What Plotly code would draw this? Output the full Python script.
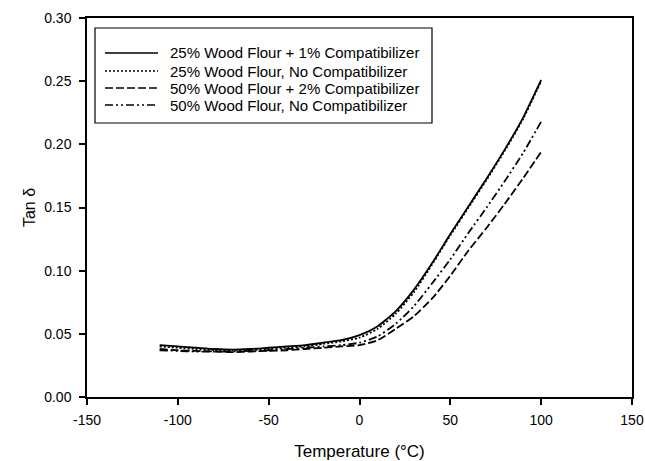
import plotly.graph_objects as go

temps = [-110, -100, -90, -80, -70, -60, -50, -40, -30, -20, -10, 0,
         10, 20, 30, 40, 50, 60, 70, 80, 90, 100]

wf25_c1 = [0.041, 0.040, 0.039, 0.038, 0.0375, 0.038, 0.039, 0.040, 0.041, 0.043, 0.045, 0.049,
           0.056, 0.068, 0.085, 0.106, 0.129, 0.151, 0.173, 0.196, 0.221, 0.251]
wf25_nc = [0.040, 0.039, 0.038, 0.0372, 0.037, 0.0372, 0.038, 0.039, 0.040, 0.042, 0.044, 0.047,
           0.054, 0.066, 0.083, 0.105, 0.128, 0.150, 0.172, 0.195, 0.220, 0.250]
wf50_c2 = [0.038, 0.037, 0.0365, 0.036, 0.0355, 0.036, 0.0365, 0.037, 0.038, 0.039, 0.040, 0.041,
           0.045, 0.054, 0.064, 0.078, 0.096, 0.116, 0.134, 0.153, 0.173, 0.194]
wf50_nc = [0.037, 0.0365, 0.036, 0.036, 0.036, 0.0365, 0.037, 0.038, 0.039, 0.040, 0.041, 0.043,
           0.048, 0.058, 0.072, 0.090, 0.109, 0.130, 0.150, 0.171, 0.193, 0.218]

names = ["25% Wood Flour + 1% Compatibilizer",
         "25% Wood Flour, No Compatibilizer",
         "50% Wood Flour + 2% Compatibilizer",
         "50% Wood Flour, No Compatibilizer"]
series = [wf25_c1, wf25_nc, wf50_c2, wf50_nc]
dashes = ["solid", "2px,2px", "8px,3px", "8px,3px,2px,3px,2px,3px"]

x_ticks = [-150, -100, -50, 0, 50, 100, 150]
x_ticktext = ["-150", "-100", "-50", "0", "50", "100", "150"]
y_ticks = [0, 0.05, 0.10, 0.15, 0.20, 0.25, 0.30]
y_ticktext = ["0.00", "0.05", "0.10", "0.15", "0.20", "0.25", "0.30"]

FONT = "Liberation Sans, Arial, sans-serif"

fig = go.Figure()
for n, s, d in zip(names, series, dashes):
    fig.add_trace(go.Scatter(x=temps, y=s, name=n, mode="lines", showlegend=False,
                             line=dict(color="black", width=1.8, dash=d,
                                       shape="spline", smoothing=0.6)))

# plot area in pixels: x 87..632, y 18..397
L, R, T, B = 87, 632, 18, 397
def px(xp):
    return (xp - L) / (R - L)
def py(yp):
    return (B - yp) / (B - T)

shapes = [dict(type="rect", xref="paper", yref="paper",
               x0=px(95), x1=px(432), y0=py(123), y1=py(28),
               line=dict(color="black", width=1.2), fillcolor="rgba(0,0,0,0)")]
annotations = []
row_y = [53, 71, 88, 105]
for n, d, ry in zip(names, dashes, row_y):
    shapes.append(dict(type="line", xref="paper", yref="paper",
                       x0=px(105), x1=px(158), y0=py(ry), y1=py(ry),
                       line=dict(color="black", width=1.6, dash=d)))
    annotations.append(dict(text=n, xref="paper", yref="paper", x=px(168), y=py(ry),
                            xanchor="left", yanchor="middle", showarrow=False,
                            font=dict(family=FONT, size=15, color="black")))

fig.update_layout(
    width=645, height=461,
    margin=dict(l=L, r=645 - R, t=T, b=461 - B),
    paper_bgcolor="white", plot_bgcolor="white",
    font=dict(size=14, family=FONT, color="black"),
    showlegend=False,
    xaxis=dict(range=[-150, 150], tickvals=x_ticks, ticktext=x_ticktext,
               automargin=False,
               showgrid=False, zeroline=False, showline=True, linecolor="black", linewidth=1.5,
               mirror=True, ticks="outside", ticklen=6, tickcolor="black", tickwidth=1.5,
               ticklabelstandoff=3,
               title=dict(text="Temperature (°C)", font=dict(size=17, family=FONT, color="black"),
                          standoff=19),
               tickfont=dict(size=14, family=FONT, color="black")),
    yaxis=dict(range=[0, 0.30], tickvals=y_ticks, ticktext=y_ticktext,
               automargin=False,
               showgrid=False, zeroline=False, showline=True, linecolor="black", linewidth=1.5,
               mirror=True, ticks="outside", ticklen=6, tickcolor="black", tickwidth=1.5,
               ticklabelstandoff=5,
               title=dict(text="Tan δ", font=dict(size=16, family=FONT, color="black"),
                          standoff=5),
               tickfont=dict(size=14, family=FONT, color="black")),
    shapes=shapes,
    annotations=annotations,
)

fig.write_html("out.html")
